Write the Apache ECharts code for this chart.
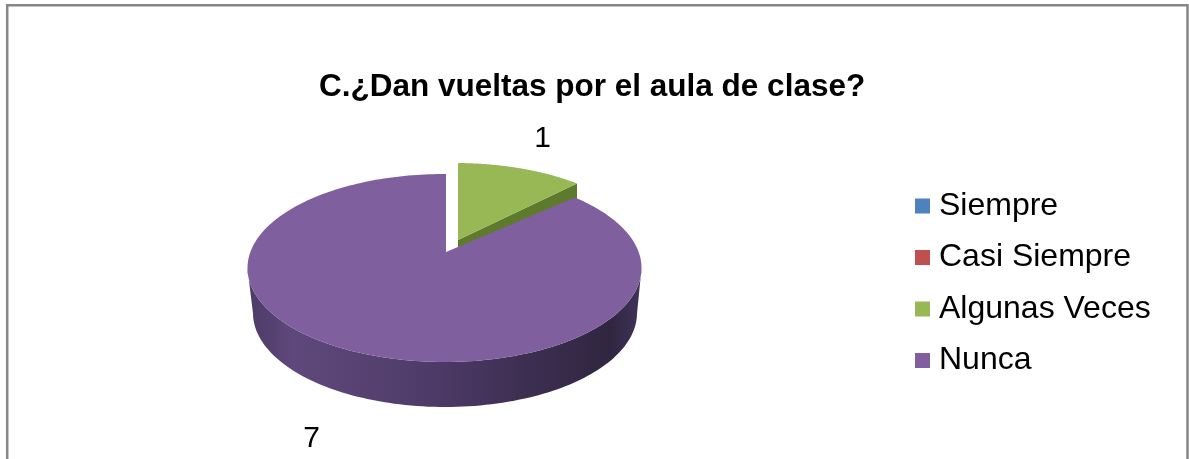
<!DOCTYPE html>
<html>
<head>
<meta charset="utf-8">
<style>html,body{margin:0;padding:0;background:#fff}#chart{width:1189px;height:459px}</style>
<script src="https://cdn.jsdelivr.net/npm/echarts@6/dist/echarts.min.js"></script>
</head>
<body>
<div id="chart"></div>
<script>
// Survey answers
const titleText = 'C.¿Dan vueltas por el aula de clase?';
const categories = ['Siempre', 'Casi Siempre', 'Algunas Veces', 'Nunca'];
const counts = [0, 0, 1, 7];
const faceColors = ['#4F81BD', '#C0504D', '#97B854', '#7F5F9E'];

// Tilted-pie geometry: each slice is exploded, so it has its own apex and rim.
const sliceLayout = {
  'Algunas Veces': {
    apex: [458, 240], slope: 0.475,
    top: { cx: 455.5, cy: 255.8, rx: 194, ry: 92.8 },
    cutFace: 46, labelOffset: [22, -30]
  },
  'Nunca': {
    apex: [446, 252], slope: 0.423,
    top: { cx: 444.5, cy: 268, rx: 197, ry: 94 },
    bottom: { cx: 445, cy: 313, rx: 192, ry: 94 },
    labelOffset: [-38, 88]
  }
};

const total = counts.reduce((a, b) => a + b, 0);

// Angular extent (clockwise from twelve o'clock) of every category.
function sliceAngles(index) {
  const before = counts.slice(0, index).reduce((a, b) => a + b, 0);
  return [before / total * 2 * Math.PI, (before + counts[index]) / total * 2 * Math.PI];
}

// Where the ray leaving the apex at a pie angle meets the rim ellipse.
function rimParam(layout, angle) {
  const e = layout.top;
  const dx = Math.sin(angle), dy = -layout.slope * Math.cos(angle);
  const ox = layout.apex[0] - e.cx, oy = layout.apex[1] - e.cy;
  const a = dx * dx / (e.rx * e.rx) + dy * dy / (e.ry * e.ry);
  const b = 2 * (ox * dx / (e.rx * e.rx) + oy * dy / (e.ry * e.ry));
  const c = ox * ox / (e.rx * e.rx) + oy * oy / (e.ry * e.ry) - 1;
  const t = (-b + Math.sqrt(b * b - 4 * a * c)) / (2 * a);
  const x = layout.apex[0] + t * dx, y = layout.apex[1] + t * dy;
  return Math.atan2((y - e.cy) / e.ry, (x - e.cx) / e.rx);
}
function onEllipse(e, phi) {
  return [e.cx + e.rx * Math.cos(phi), e.cy + e.ry * Math.sin(phi)];
}

function renderSlice(index, api) {
  const value = api.value(0);
  const seriesIndex = api.value(1);
  if (!value) return { type: 'group', children: [] };
  const name = categories[seriesIndex];
  const layout = sliceLayout[name];
  const [start, end] = sliceAngles(seriesIndex);
  const steps = 240;
  const phis = [];
  for (let i = 0; i <= steps; i++) phis.push(rimParam(layout, start + (end - start) * i / steps));
  const rim = phis.map(p => onEllipse(layout.top, p));
  const children = [];

  // Cut face showing behind the neighbouring slice
  if (layout.cutFace) {
    const last = rim[rim.length - 1];
    children.push({
      type: 'polygon',
      shape: { points: [layout.apex, last, [last[0], last[1] + layout.cutFace], [layout.apex[0], layout.apex[1] + layout.cutFace]] },
      style: { fill: '#5E7A2C' }
    });
  }

  // Front wall of the disc, only where the rim faces the viewer
  if (layout.bottom) {
    const front = phis.filter(p => Math.sin(p) >= 0);
    const upper = front.map(p => onEllipse(layout.top, p));
    const lower = front.map(p => onEllipse(layout.bottom, p)).reverse();
    children.push({
      type: 'polygon',
      shape: { points: upper.concat(lower) },
      style: {
        fill: new echarts.graphic.LinearGradient(0, 0, 1, 0, [
          { offset: 0, color: '#4C3A66' },
          { offset: 0.12, color: '#5F497C' },
          { offset: 0.45, color: '#4F3B69' },
          { offset: 0.72, color: '#3C2E50' },
          { offset: 0.92, color: '#302640' },
          { offset: 1, color: '#41335A' }
        ])
      }
    });
  }

  // Top face
  children.push({
    type: 'polygon',
    shape: { points: [layout.apex].concat(rim) },
    style: { fill: faceColors[seriesIndex] }
  });

  // Value label just outside the middle of the arc
  const mid = onEllipse(layout.top, rimParam(layout, (start + end) / 2));
  children.push({
    type: 'text',
    style: {
      text: String(value),
      x: mid[0] + layout.labelOffset[0],
      y: mid[1] + layout.labelOffset[1],
      align: 'center',
      verticalAlign: 'middle',
      font: '30px "Liberation Sans"',
      fill: '#000'
    }
  });
  return { type: 'group', children };
}

const chart = echarts.init(document.getElementById('chart'), null, { renderer: 'canvas' });
chart.setOption({
  animation: false,
  backgroundColor: '#fff',
  title: {
    text: titleText,
    left: 314,
    top: 66,
    textStyle: { fontFamily: 'Liberation Sans', fontWeight: 'bold', fontSize: 31.5, color: '#000' }
  },
  legend: {
    orient: 'vertical',
    left: 910,
    top: 185,
    icon: 'rect',
    itemWidth: 15,
    itemHeight: 15,
    itemGap: 19.5,
    data: categories,
    textStyle: { fontFamily: 'Liberation Sans', fontSize: 32, color: '#000', padding: [0, 0, 0, 4] }
  },
  graphic: [{
    type: 'rect',
    silent: true,
    z: 10,
    shape: { x: 7.2, y: 5.2, width: 1180.3, height: 480 },
    style: { fill: 'none', stroke: '#868686', lineWidth: 2.5 }
  }],
  series: categories.map((name, i) => ({
    type: 'custom',
    name,
    coordinateSystem: 'none',
    itemStyle: { color: faceColors[i] },
    renderItem: (params, api) => renderSlice(params.dataIndex, api),
    data: [[counts[i], i]]
  }))
});
</script>
</body>
</html>
